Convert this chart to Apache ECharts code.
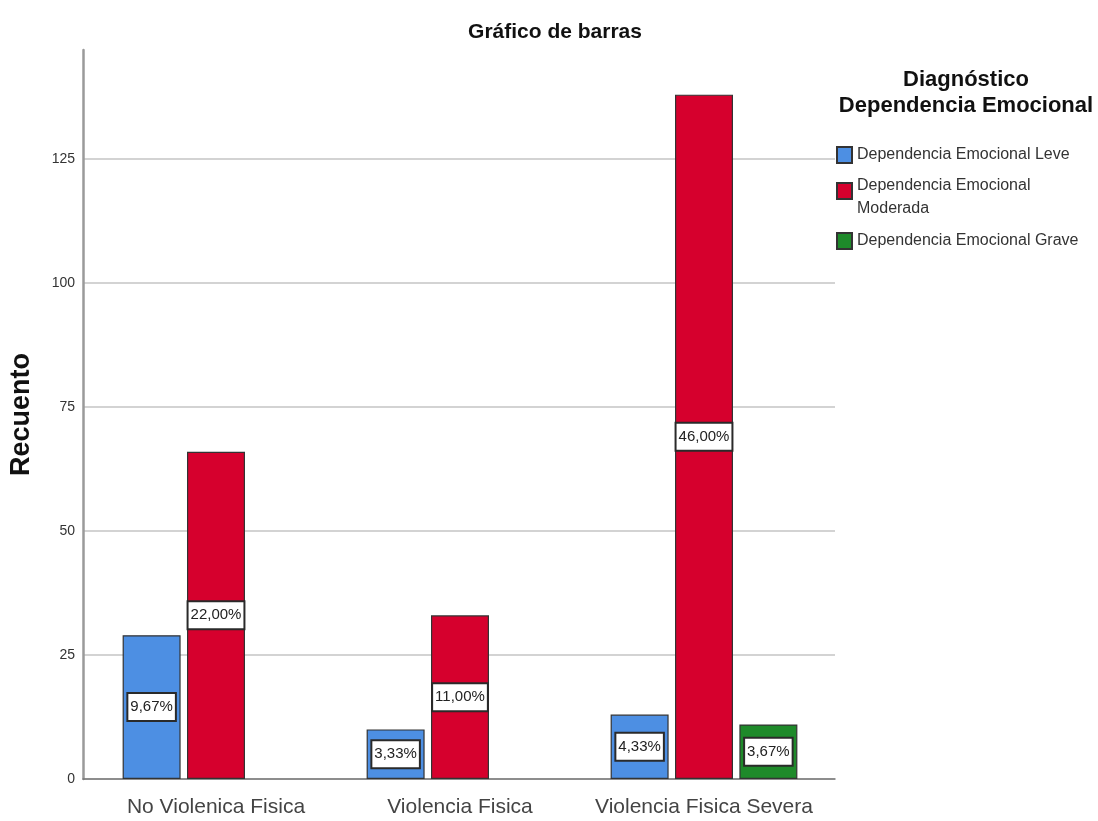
<!DOCTYPE html>
<html>
<head>
<meta charset="utf-8">
<script src="https://cdn.jsdelivr.net/npm/echarts@6/dist/echarts.min.js"></script>
<style>
  html, body { margin: 0; padding: 0; background: #fff; }
  #chart { width: 1098px; height: 821px; }
</style>
</head>
<body>
<div id="chart"></div>
<script>
// categorías del eje X
const categories = ['No Violenica Fisica', 'Violencia Fisica', 'Violencia Fisica Severa']
// recuentos por nivel de dependencia
const leve = [29, 10, 13]
const moderada = [66, 33, 138]
const grave = [null, null, 11]
// porcentajes mostrados en las barras
const levePct = ['9,67%', '3,33%', '4,33%']
const moderadaPct = ['22,00%', '11,00%', '46,00%']
const gravePct = ['', '', '3,67%']
const seriesNames = [
  'Dependencia Emocional Leve',
  'Dependencia Emocional Moderada',
  'Dependencia Emocional Grave',
]
const yMax = 147
const yStep = 25

const sans = '"Liberation Sans", Arial, sans-serif'

const chart = echarts.init(document.getElementById('chart'), null, { renderer: 'canvas' })

const pctLabel = pcts => ({
  show: true,
  position: 'inside',
  formatter: p => pcts[p.dataIndex],
  fontFamily: sans,
  fontSize: 15,
  color: '#222',
  backgroundColor: '#fff',
  borderColor: '#2a2a2a',
  borderWidth: 2,
  padding: [6, 2, 5, 2],
})

const makeSeries = (name, data, color, pcts) => ({
  name,
  type: 'bar',
  xAxisIndex: 1,
  yAxisIndex: 1,
  data,
  barWidth: 58,
  barGap: '11%',
  itemStyle: { color, borderColor: '#333', borderWidth: 1.2 },
  label: pctLabel(pcts),
})

// la leyenda "Moderada" ocupa dos líneas; el cuadrito queda junto a la primera
const legendBox = (name, top) => ({
  data: [name],
  left: 831,
  top,
  icon: 'rect',
  itemWidth: 15,
  itemHeight: 16,
  formatter: n => (n === seriesNames[1] ? '{l1|Dependencia Emocional}\n{l2|Moderada}' : n),
  textStyle: {
    fontFamily: sans,
    fontSize: 16,
    color: '#333',
    lineHeight: 20,
    rich: {
      l1: { fontFamily: sans, fontSize: 16, color: '#333', lineHeight: 36 },
      l2: { fontFamily: sans, fontSize: 16, color: '#333', lineHeight: 10 },
    },
  },
})

const option = {
  animation: false,
  backgroundColor: '#fff',
  title: [
    {
      text: 'Gráfico de barras',
      left: 550,
      top: 17,
      textAlign: 'center',
      textStyle: { fontFamily: sans, fontSize: 21, fontWeight: 'bold', color: '#111' },
    },
    {
      text: 'Diagnóstico\nDependencia Emocional',
      left: 961,
      top: 62,
      textAlign: 'center',
      textStyle: { fontFamily: sans, fontSize: 22, fontWeight: 'bold', color: '#111', lineHeight: 26 },
    },
  ],
  legend: [
    legendBox(seriesNames[0], 140),
    legendBox(seriesNames[1], 163),
    legendBox(seriesNames[2], 226),
  ],
  grid: [
    // ejes de fondo: línea Y, rejilla y línea base
    { left: 83, right: 263, top: 50, bottom: 42 },
    // barras y etiquetas de categoría
    { left: 94, right: 272, top: 50, bottom: 42 },
  ],
  xAxis: [
    {
      gridIndex: 0,
      type: 'category',
      data: categories,
      axisTick: { show: false },
      axisLabel: { show: false },
      axisLine: { lineStyle: { color: '#777', width: 1.5 } },
    },
    {
      gridIndex: 1,
      type: 'category',
      data: categories,
      axisTick: { show: false },
      axisLine: { show: false },
      axisLabel: { interval: 0, fontFamily: sans, fontSize: 21, color: '#444', margin: 18 },
    },
  ],
  yAxis: [
    {
      gridIndex: 0,
      type: 'value',
      min: 0,
      max: yMax,
      interval: yStep,
      name: 'Recuento',
      nameLocation: 'middle',
      nameGap: 48,
      nameTextStyle: { fontFamily: sans, fontSize: 27, fontWeight: 'bold', color: '#111' },
      axisLine: { show: true, lineStyle: { color: '#9a9a9a', width: 2.5 } },
      axisTick: { show: false },
      axisLabel: { fontFamily: sans, fontSize: 14, color: '#333', margin: 8, showMaxLabel: false },
      splitLine: { showMaxLine: false, lineStyle: { color: '#c4c4c4', width: 1.5 } },
    },
    {
      gridIndex: 1,
      type: 'value',
      min: 0,
      max: yMax,
      interval: yStep,
      show: false,
      splitLine: { show: false },
    },
  ],
  series: [
    makeSeries(seriesNames[0], leve, '#4d8fe3', levePct),
    makeSeries(seriesNames[1], moderada, '#d6002d', moderadaPct),
    makeSeries(seriesNames[2], grave, '#1e8a2a', gravePct),
  ],
}

chart.setOption(option)
</script>
</body>
</html>
